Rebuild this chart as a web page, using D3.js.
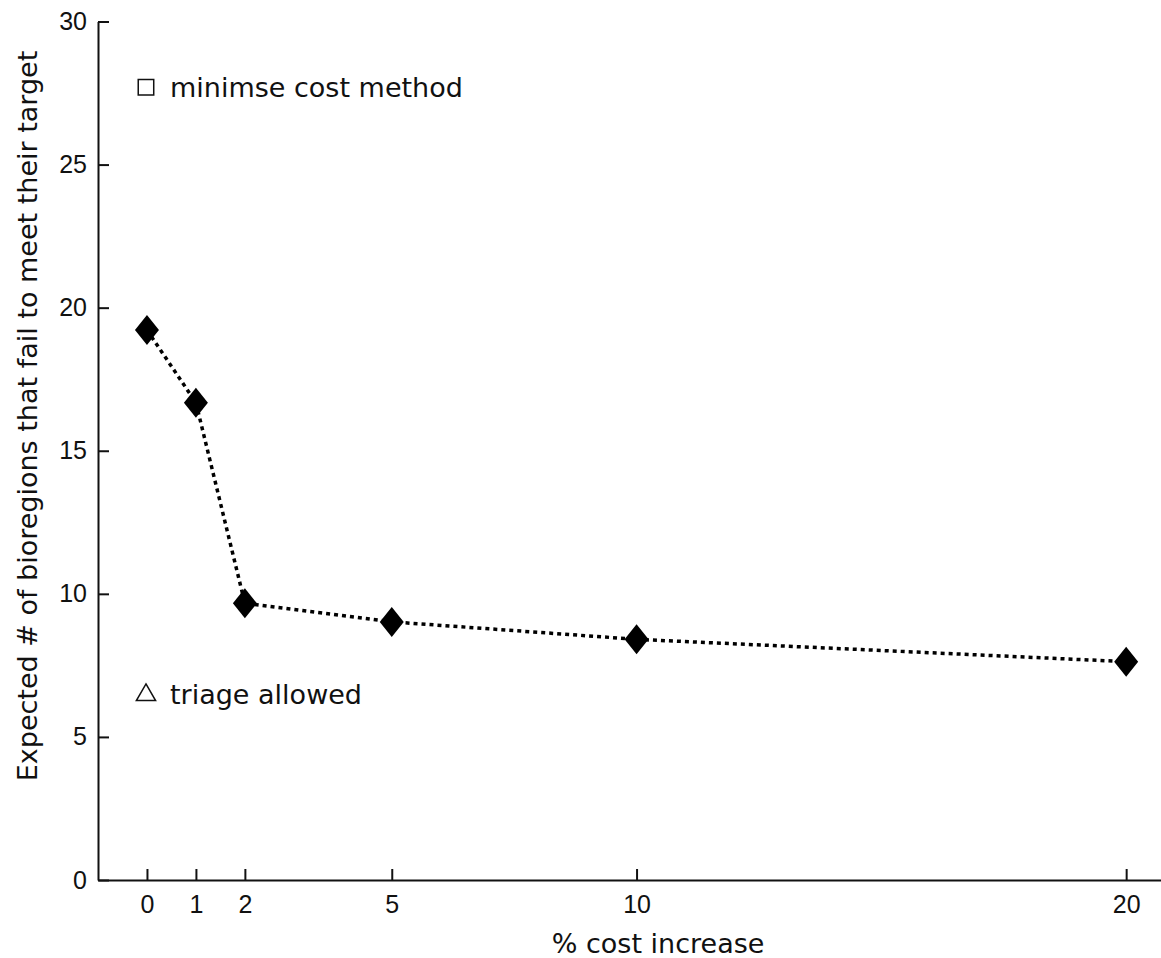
<!DOCTYPE html>
<html>
<head>
<meta charset="utf-8">
<script src="https://cdn.jsdelivr.net/npm/d3@7"></script>
<style>
  body { margin: 0; background: #fff; }
  svg { display: block; }
  .tick text { font-family: "Liberation Sans", Arial, sans-serif; font-size: 25px; fill: #111; }
  .lbl { font-family: "DejaVu Sans", sans-serif; font-size: 27px; fill: #111; }
</style>
</head>
<body>
<svg id="chart" width="1161" height="958"></svg>
<script>
// data
var costIncrease = [0, 1, 2, 5, 10, 20]
var failCount = [19.22, 16.68, 9.67, 9.02, 8.41, 7.63]
var xTicks = [0, 1, 2, 5, 10, 20]
var yTicks = [0, 5, 10, 15, 20, 25, 30]
var legendLabels = ["minimse cost method", "triage allowed"]
var legendY = [27.7, 6.5]

const svg = d3.select("#chart")

const x = d3.scaleLinear().domain([-1, 21.5]).range([98, 98 + 22.5 * 48.96])
const y = d3.scaleLinear().domain([0, 30]).range([880, 21.5])

const xAxis = d3.axisBottom(x)
  .tickValues(xTicks)
  .tickFormat(d3.format("d"))
  .tickSizeInner(-11)
  .tickSizeOuter(0)
  .tickPadding(15)

const yAxis = d3.axisLeft(y)
  .tickValues(yTicks)
  .tickFormat(d3.format("d"))
  .tickSizeInner(-11)
  .tickSizeOuter(0)
  .tickPadding(11)

const xg = svg.append("g").attr("transform", `translate(0,${y(0)})`).call(xAxis)
const yg = svg.append("g").attr("transform", `translate(${x(-1)},0)`).call(yAxis)

;[xg, yg].forEach(g => {
  g.selectAll("path, line").attr("stroke", "#111").attr("stroke-width", 2)
})

// dotted connecting line
const line = d3.line()
  .x((d, i) => x(costIncrease[i]))
  .y(d => y(d))

svg.append("path")
  .datum(failCount)
  .attr("d", line)
  .attr("fill", "none")
  .attr("stroke", "#000")
  .attr("stroke-width", 3.5)
  .attr("stroke-dasharray", "4,4")

// diamond markers
svg.selectAll("path.pt")
  .data(failCount)
  .enter().append("path")
  .attr("class", "pt")
  .attr("d", "M0,-15L12,0L0,15L-12,0Z")
  .attr("transform", (d, i) => `translate(${x(costIncrease[i])},${y(d)})`)
  .attr("fill", "#000")

// legend-like text annotations
const sym = [d3.symbolSquare, d3.symbolTriangle]
legendLabels.forEach((t, i) => {
  svg.append("path")
    .attr("d", d3.symbol().type(sym[i]).size(i === 0 ? 240 : 160)())
    .attr("transform", `translate(${x(-0.02)},${y(legendY[i]) + (i === 0 ? 0 : 1)})`)
    .attr("fill", "none")
    .attr("stroke", "#111")
    .attr("stroke-width", 1.5)
  svg.append("text")
    .attr("class", "lbl")
    .attr("x", 170)
    .attr("y", y(legendY[i]) + 10)
    .text(t)
})

// axis labels
svg.append("text")
  .attr("class", "lbl")
  .attr("x", x(10.5) - 3)
  .attr("y", 953)
  .attr("text-anchor", "middle")
  .text("% cost increase")

svg.append("text")
  .attr("class", "lbl")
  .attr("transform", "translate(37,416) rotate(-90)")
  .attr("text-anchor", "middle")
  .text("Expected # of bioregions that fail to meet their target")
</script>
</body>
</html>
